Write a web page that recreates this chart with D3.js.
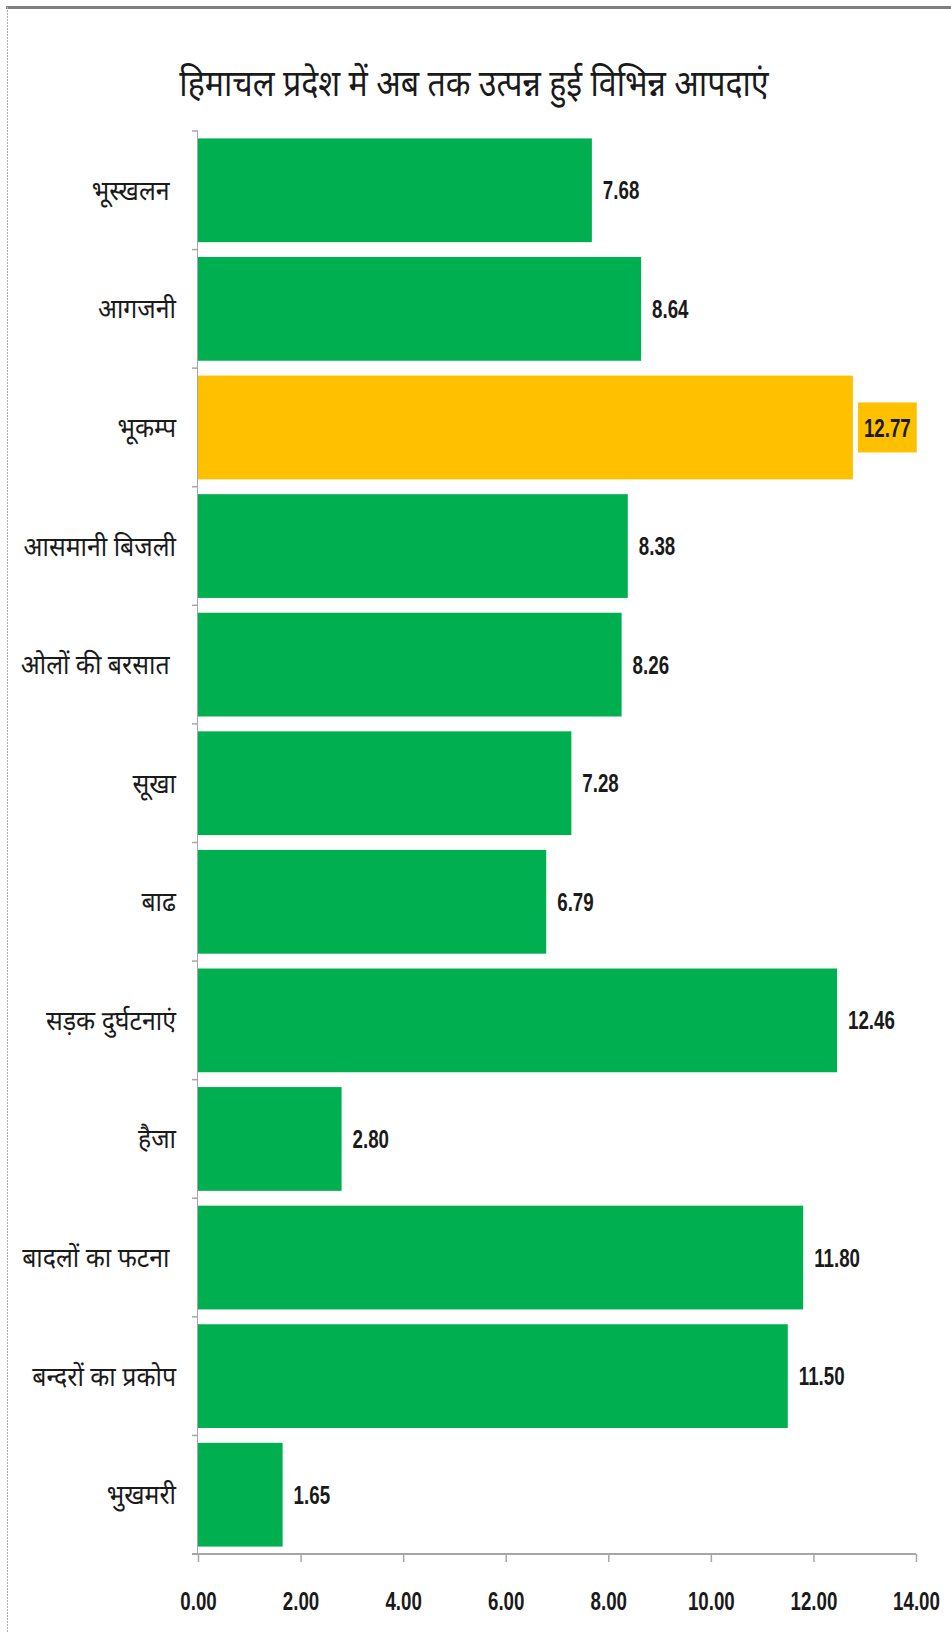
<!DOCTYPE html>
<html>
<head>
<meta charset="utf-8">
<script src="https://cdn.jsdelivr.net/npm/d3@7"></script>
<style>
  html, body { margin: 0; padding: 0; background: #ffffff; }
  svg { display: block; }
  .hindi { font-family: "Noto Sans Devanagari", "Lohit Devanagari", "FreeSans", "Noto Sans", sans-serif; white-space: pre; }
  .num { font-family: "Liberation Sans", "Arial", sans-serif; font-weight: bold; }
</style>
</head>
<body>
<script>
// Disaster categories (top to bottom) and their shares
const categories = [
  "भूस्खलन ",
  "आगजनी",
  "भूकम्प",
  "आसमानी बिजली",
  "ओलों की बरसात ",
  "सूखा",
  "बाढ",
  "सड़क दुर्घटनाएं",
  "हैजा",
  "बादलों का फटना ",
  "बन्दरों का प्रकोप",
  "भुखमरी"
];
const values = [7.68, 8.64, 12.77, 8.38, 8.26, 7.28, 6.79, 12.46, 2.80, 11.80, 11.50, 1.65];
const highlighted = ["भूकम्प"];
const xTicks = [0, 2, 4, 6, 8, 10, 12, 14];
const title = "हिमाचल प्रदेश में अब तक उत्पन्न हुई विभिन्न आपदाएं";

const W = 951, H = 1633;
const margin = { top: 131, right: 35, bottom: 79, left: 198 };
// horizontal squeeze for the condensed lettering
const numSqueeze = 0.72, labelSqueeze = 0.92, titleSqueeze = 0.87;

const svg = d3.select("body").append("svg")
  .attr("width", W).attr("height", H);

// Outer frame: heavy top rule and faint left edge
svg.append("line")
  .attr("x1", 6).attr("x2", W).attr("y1", 7.5).attr("y2", 7.5)
  .attr("stroke", "#7f7f7f").attr("stroke-width", 3);
svg.append("line")
  .attr("x1", 7.5).attr("x2", 7.5).attr("y1", 7).attr("y2", H)
  .attr("stroke", "#b0b0b0").attr("stroke-width", 1)
  .attr("stroke-dasharray", "2,1");

const x = d3.scaleLinear().domain([0, 14]).range([margin.left, 916]);
const y = d3.scaleBand().domain(categories)
  .range([margin.top, H - margin.bottom])
  .paddingInner(0.125).paddingOuter(0.0625);

// Title
svg.append("text")
  .attr("class", "hindi")
  .attr("transform", `translate(474,96) scale(${titleSqueeze},1)`)
  .attr("text-anchor", "middle")
  .attr("font-size", 37)
  .attr("fill", "#1a1a1a")
  .text(title);

// Bars
svg.append("g").selectAll("rect")
  .data(categories)
  .join("rect")
  .attr("x", x(0))
  .attr("y", d => y(d))
  .attr("width", (d, i) => x(values[i]) - x(0))
  .attr("height", y.bandwidth())
  .attr("fill", d => highlighted.includes(d) ? "#FFC000" : "#00B050");

// Category axis: ticks at band boundaries
const yAxisG = svg.append("g");
yAxisG.append("line")
  .attr("x1", x(0) - 0.5).attr("x2", x(0) - 0.5)
  .attr("y1", margin.top).attr("y2", H - margin.bottom)
  .attr("stroke", "#a6a6a6").attr("stroke-width", 1);
const bounds = d3.range(categories.length + 1)
  .map(i => margin.top + i * y.step());
yAxisG.selectAll("line.tick")
  .data(bounds)
  .join("line")
  .attr("class", "tick")
  .attr("x1", x(0) - 6).attr("x2", x(0))
  .attr("y1", d => d).attr("y2", d => d)
  .attr("stroke", "#a6a6a6").attr("stroke-width", 1.5);

// Category labels
svg.append("g").selectAll("text")
  .data(categories)
  .join("text")
  .attr("class", "hindi")
  .attr("transform", d => `translate(176,${y(d) + y.bandwidth() / 2}) scale(${labelSqueeze},1)`)
  .attr("dy", "0.35em")
  .attr("text-anchor", "end")
  .attr("font-size", 27)
  .attr("fill", "#1a1a1a")
  .text(d => d);

// Value axis
const xAxis = d3.axisBottom(x)
  .tickValues(xTicks)
  .tickFormat(d3.format(".2f"))
  .tickSize(8)
  .tickSizeOuter(0);
const xAxisG = svg.append("g")
  .attr("transform", `translate(0,${H - margin.bottom})`)
  .call(xAxis);
xAxisG.select(".domain")
  .attr("stroke", "#a6a6a6").attr("stroke-width", 2)
  .attr("d", `M${x(0) - 6},0H${x(14)}`);
xAxisG.selectAll(".tick line").attr("stroke", "#a6a6a6").attr("stroke-width", 1.5);
xAxisG.selectAll(".tick text")
  .attr("class", "num")
  .attr("y", 38)
  .attr("dy", "0.71em")
  .attr("transform", `scale(${numSqueeze},1)`)
  .attr("font-size", 26)
  .attr("fill", "#1a1a1a");

// Value labels (highlighted one gets an orange box)
const labels = svg.append("g").selectAll("g")
  .data(categories)
  .join("g")
  .attr("transform", (d, i) => `translate(${x(values[i]) + 11},${y(d) + y.bandwidth() / 2})`);
labels.append("text")
  .attr("class", "num")
  .attr("dy", "0.35em")
  .attr("transform", `scale(${numSqueeze},1)`)
  .attr("font-size", 26)
  .attr("fill", "#1a1a1a")
  .text((d, i) => values[i].toFixed(2));
labels.filter(d => highlighted.includes(d)).each(function () {
  const g = d3.select(this);
  const bb = g.select("text").node().getBBox();
  g.insert("rect", "text")
    .attr("x", bb.x * numSqueeze - 6).attr("y", -25)
    .attr("width", bb.width * numSqueeze + 12).attr("height", 50)
    .attr("fill", "#FFC000");
});
</script>
</body>
</html>
